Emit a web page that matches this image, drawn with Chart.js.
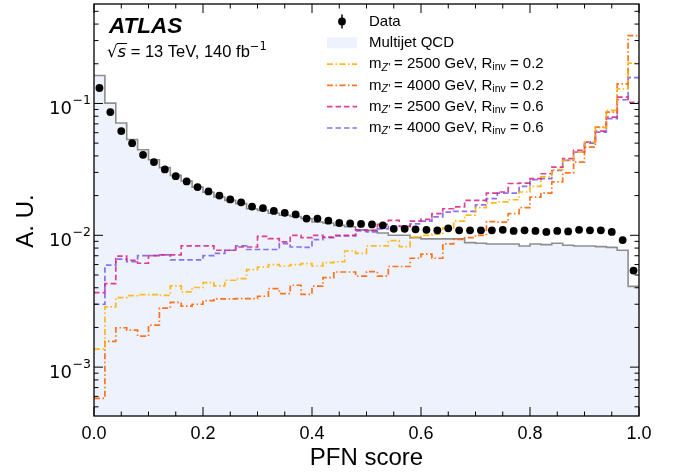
<!DOCTYPE html>
<html>
<head>
<meta charset="utf-8">
<script src="https://cdn.jsdelivr.net/npm/chart.js@4.4.1/dist/chart.umd.min.js"></script>
<style>
  html, body { margin: 0; padding: 0; background: #fff; }
</style>
</head>
<body>
<canvas id="pfn" width="678" height="474"></canvas>
<script>
// 50 bins of PFN score, width 0.02
const binWidth = 0.02;

const dataValues = [
  0.131, 0.086, 0.0617, 0.050, 0.0408, 0.0359, 0.0316, 0.0281, 0.0256, 0.0232,
  0.0215, 0.0200, 0.0187, 0.0178, 0.0165, 0.0161, 0.0153, 0.0148, 0.0144, 0.0134,
  0.0134, 0.0129, 0.0124, 0.0123, 0.0122, 0.0121, 0.0119, 0.0112, 0.0112, 0.0111,
  0.0110, 0.0109, 0.0113, 0.0109, 0.0109, 0.0109, 0.0109, 0.0110, 0.0108, 0.0109,
  0.0108, 0.0106, 0.0108, 0.0107, 0.0110, 0.0109, 0.0109, 0.0106, 0.0092, 0.0054
];

const qcdValues = [
  0.163, 0.1005, 0.071, 0.0533, 0.0446, 0.0374, 0.0326, 0.0285, 0.0258, 0.0232,
  0.0212, 0.0195, 0.0184, 0.0174, 0.0159, 0.01545, 0.0147, 0.0142, 0.0139, 0.0134,
  0.0126, 0.0124, 0.0119, 0.0116, 0.0110, 0.0109, 0.0104, 0.0100, 0.0100, 0.0096,
  0.0094, 0.0094, 0.0094, 0.0094, 0.0088, 0.0087, 0.0086, 0.0086, 0.0086, 0.0083,
  0.0086, 0.0085, 0.0087, 0.0084, 0.0083, 0.0083, 0.0082, 0.0081, 0.0077, 0.0041
];

const sig2500r02 = [
  0.00137, 0.00286, 0.00337, 0.00349, 0.00355, 0.00355, 0.0035, 0.00413, 0.00372, 0.00402,
  0.00438, 0.00413, 0.00456, 0.0047, 0.0055, 0.00575, 0.0060, 0.00585, 0.0060, 0.0061,
  0.00585, 0.0062, 0.0063, 0.0076, 0.0073, 0.0083, 0.0083, 0.0091, 0.0082, 0.0097,
  0.0100, 0.0102, 0.0114, 0.0128, 0.0142, 0.0162, 0.0176, 0.0179, 0.0186, 0.0213,
  0.0235, 0.0277, 0.0315, 0.037, 0.0428, 0.0509, 0.0655, 0.0885, 0.129, 0.202
];

const sig4000r02 = [
  0.00058, 0.00157, 0.00199, 0.00191, 0.00172, 0.00208, 0.0028, 0.0031, 0.0029, 0.0030,
  0.0032, 0.0033, 0.0033, 0.00331, 0.00331, 0.00345, 0.00394, 0.00361, 0.00418, 0.00357,
  0.00411, 0.00478, 0.00527, 0.00527, 0.0049, 0.0053, 0.0049, 0.0058, 0.0058, 0.0067,
  0.0072, 0.0067, 0.0086, 0.0093, 0.0096, 0.0100, 0.0127, 0.0126, 0.0146, 0.0162,
  0.0195, 0.0209, 0.0254, 0.0297, 0.0359, 0.0467, 0.0661, 0.0859, 0.141, 0.327
];

const sig2500r06 = [
  0.00368, 0.0043, 0.00694, 0.00647, 0.00614, 0.0070, 0.0071, 0.0071, 0.0083, 0.0083,
  0.0083, 0.0077, 0.0077, 0.00815, 0.00815, 0.0098, 0.00944, 0.0089, 0.0100, 0.0096,
  0.0100, 0.0097, 0.0100, 0.0100, 0.0110, 0.0109, 0.0121, 0.0130, 0.0117, 0.0128,
  0.0132, 0.0146, 0.0159, 0.0164, 0.0184, 0.0184, 0.0209, 0.0213, 0.0247, 0.0249,
  0.0269, 0.0293, 0.0329, 0.0381, 0.044, 0.0509, 0.0617, 0.0787, 0.1116, 0.102
];

const sig4000r06 = [
  0.0030, 0.00593, 0.0066, 0.0063, 0.0070, 0.0070, 0.0071, 0.0065, 0.0065, 0.0065,
  0.0070, 0.0073, 0.0077, 0.0083, 0.0078, 0.0078, 0.0078, 0.00866, 0.00815, 0.0081,
  0.00927, 0.0096, 0.0099, 0.0099, 0.0108, 0.0106, 0.0112, 0.0117, 0.0117, 0.0122,
  0.0128, 0.0138, 0.0150, 0.0152, 0.0152, 0.0170, 0.0190, 0.0209, 0.0209, 0.0235,
  0.0264, 0.0269, 0.031, 0.037, 0.0428, 0.050, 0.0607, 0.0766, 0.1067, 0.157
];

const signalMasses = ['2500', '4000', '2500', '4000'];
const signalRinv = ['0.2', '0.2', '0.6', '0.6'];
const signalColors = ['rgba(255,176,0,0.88)', 'rgba(254,97,0,0.88)', 'rgba(220,38,127,0.88)', 'rgba(120,94,240,0.88)'];
const dashDot = [6, 2.5, 1.5, 2.5];
const dashed = [5.5, 3];
const signalDash = [dashDot, dashDot, dashed, dashed];

const yMajorTicks = [1e-3, 1e-2, 1e-1];
const yTickExponents = ['\u22123', '\u22122', '\u22121'];
const yMin = 4.26e-4, yMax = 0.568;

const FONT = 'Liberation Sans';

function stepPoints(vals) {
  const pts = vals.map((v, k) => ({x: k * binWidth, y: v}));
  pts.push({x: vals.length * binWidth, y: vals[vals.length - 1]});
  return pts;
}

const signalSeries = [sig2500r02, sig4000r02, sig2500r06, sig4000r06];

const datasets = [{
  label: 'Data',
  data: dataValues.map((v, k) => ({x: (k + 0.5) * binWidth, y: v})),
  showLine: false,
  pointRadius: 3.9,
  pointBackgroundColor: '#000',
  pointBorderWidth: 0,
  order: 0
}];
signalSeries.forEach((s, i) => {
  datasets.push({
    label: 'm' + signalMasses[i] + ' R' + signalRinv[i],
    data: stepPoints(s),
    stepped: true,
    borderColor: signalColors[i],
    borderWidth: 1.7,
    borderDash: signalDash[i],
    pointRadius: 0,
    fill: false,
    order: 1 + i
  });
});
datasets.push({
  label: 'Multijet QCD',
  data: stepPoints(qcdValues),
  stepped: true,
  borderColor: '#8e8e8e',
  borderWidth: 1.6,
  backgroundColor: '#eef2fc',
  fill: 'start',
  pointRadius: 0,
  order: 10
});

function runs(ctx, x, y, parts) {
  parts.forEach(p => {
    ctx.font = p.font;
    ctx.fillText(p.t, x, y + (p.dy || 0));
    x += ctx.measureText(p.t).width;
  });
  return x;
}

const decorations = {
  id: 'decorations',
  afterDraw(chart) {
    const {ctx, chartArea: a, scales: {x, y}} = chart;
    ctx.save();
    ctx.strokeStyle = '#000';
    ctx.fillStyle = '#000';
    ctx.lineWidth = 1;
    const seg = (x1, y1, x2, y2) => { ctx.beginPath(); ctx.moveTo(x1, y1); ctx.lineTo(x2, y2); ctx.stroke(); };

    // x ticks (inward, bottom and top)
    for (let k = 0; k <= 20; k++) {
      const px = x.getPixelForValue(k * 0.05);
      const len = (k % 4 === 0) ? 9 : 4.5;
      seg(px, a.bottom, px, a.bottom - len);
      seg(px, a.top, px, a.top + len);
    }
    // y ticks (inward, left and right)
    for (let d = -4; d <= 0; d++) {
      for (let m = 1; m <= 9; m++) {
        const v = m * Math.pow(10, d);
        if (v < yMin || v > yMax) continue;
        const py = y.getPixelForValue(v);
        const len = (m === 1) ? 9 : 4.5;
        seg(a.left, py, a.left + len, py);
        seg(a.right, py, a.right - len, py);
      }
    }
    // frame
    ctx.lineWidth = 1.3;
    ctx.strokeRect(a.left, a.top, a.right - a.left, a.bottom - a.top);

    // y tick labels 10^n
    ctx.textBaseline = 'alphabetic';
    yMajorTicks.forEach((v, i) => {
      const py = y.getPixelForValue(v);
      ctx.textAlign = 'right';
      ctx.font = '18px "DejaVu Sans"';
      ctx.fillText('10', 72, py + 10.5);
      ctx.textAlign = 'left';
      ctx.font = '12.5px "DejaVu Sans"';
      ctx.fillText(yTickExponents[i], 72.5, py + 1);
    });

    // axis titles
    ctx.font = '24px ' + FONT;
    ctx.textAlign = 'center';
    ctx.textBaseline = 'middle';
    ctx.fillText('PFN score', (a.left + a.right) / 2, 458);
    ctx.save();
    ctx.translate(26, 221);
    ctx.rotate(-Math.PI / 2);
    ctx.fillText('A. U.', 0, 0);
    ctx.restore();

    // ATLAS label
    ctx.textAlign = 'left';
    ctx.textBaseline = 'alphabetic';
    ctx.font = 'italic bold 22.5px ' + FONT;
    ctx.fillText('ATLAS', 109, 33);

    // sqrt(s) line
    let tx = 107, base = 57;
    ctx.font = '16.5px "DejaVu Sans"';
    ctx.fillText('\u221a', tx, base);
    tx += ctx.measureText('\u221a').width;
    ctx.font = 'italic 16.5px "DejaVu Sans"';
    const sw = ctx.measureText('s').width;
    ctx.fillText('s', tx, base);
    ctx.lineWidth = 1;
    seg(tx - 0.5, base - 13.5, tx + sw + 1, base - 13.5);
    tx += sw;
    tx = runs(ctx, tx, base, [
      {t: ' = 13 TeV, 140 fb', font: '16.5px ' + FONT},
      {t: '\u22121', font: '11.5px "DejaVu Sans"', dy: -7}
    ]);

    // legend
    const lx0 = 327, lx1 = 357, tx0 = 369;
    const rowY = [21.5, 42.8, 64.1, 85.4, 106.7, 128];
    const base15 = '15px ' + FONT;
    ctx.textBaseline = 'middle';
    // Data
    ctx.lineWidth = 1.5;
    seg(342, rowY[0] - 7, 342, rowY[0] + 7);
    ctx.beginPath(); ctx.arc(342, rowY[0], 3.9, 0, Math.PI * 2); ctx.fill();
    ctx.font = base15;
    ctx.fillText('Data', tx0, rowY[0]);
    // QCD
    ctx.fillStyle = '#eef2fc';
    ctx.fillRect(lx0, rowY[1] - 5.5, lx1 - lx0, 11);
    ctx.fillStyle = '#000';
    ctx.fillText('Multijet QCD', tx0, rowY[1]);
    // signals
    signalMasses.forEach((m, i) => {
      const ry = rowY[2 + i];
      ctx.strokeStyle = signalColors[i];
      ctx.lineWidth = 1.7;
      ctx.setLineDash(signalDash[i]);
      seg(lx0, ry, lx1, ry);
      ctx.setLineDash([]);
      ctx.fillStyle = '#000';
      runs(ctx, tx0, ry, [
        {t: 'm', font: base15},
        {t: 'Z\u2032', font: 'italic 10.5px ' + FONT, dy: 3.5},
        {t: ' = ' + m + ' GeV, R', font: base15},
        {t: 'inv', font: '10.5px ' + FONT, dy: 3.5},
        {t: ' = ' + signalRinv[i], font: base15}
      ]);
    });
    ctx.restore();
  }
};

new Chart(document.getElementById('pfn'), {
  type: 'line',
  data: {datasets: datasets},
  options: {
    responsive: false,
    animation: false,
    layout: {padding: {top: 3.5, right: 39, left: 0, bottom: 0}},
    plugins: {legend: {display: false}, tooltip: {enabled: false}},
    scales: {
      x: {
        type: 'linear', min: 0, max: 1,
        grid: {display: false, drawTicks: false},
        border: {display: false},
        ticks: {
          stepSize: 0.2, autoSkip: false, maxRotation: 0, padding: 7,
          color: '#000', font: {family: FONT, size: 18},
          callback: v => v.toFixed(1)
        },
        afterFit: s => { s.height = 58; }
      },
      y: {
        type: 'logarithmic', min: yMin, max: yMax,
        grid: {display: false, drawTicks: false},
        border: {display: false},
        ticks: {display: false},
        afterFit: s => { s.width = 94; }
      }
    }
  },
  plugins: [decorations]
});
</script>
</body>
</html>
